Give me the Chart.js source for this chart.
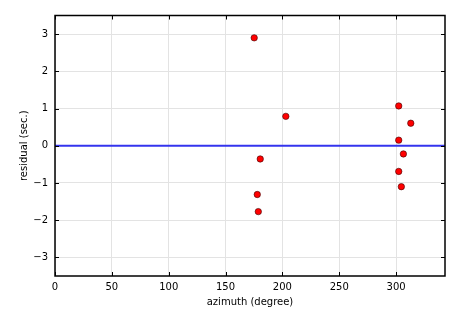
<!DOCTYPE html>
<html>
<head>
<meta charset="utf-8">
<script src="https://cdn.jsdelivr.net/npm/chart.js@4/dist/chart.umd.min.js"></script>
<style>
  body { margin: 0; background: #fff; }
  canvas { display: block; }
</style>
</head>
<body>
<canvas id="c" width="465" height="315"></canvas>
<script>
// data
const azimuth = [175.2, 203.0, 180.5, 177.9, 178.8, 302.3, 312.9, 302.3, 306.4, 302.3, 304.6];
const residual = [2.90, 0.79, -0.355, -1.31, -1.77, 1.07, 0.605, 0.15, -0.22, -0.69, -1.10];
const xTicks = [0, 50, 100, 150, 200, 250, 300];
const yTicks = [-3, -2, -1, 0, 1, 2, 3];
const xRange = [0, 343];
const yRange = [-3.5, 3.5];

const points = azimuth.map((a, i) => ({ x: a, y: residual[i] }));
const zeroLine = [{ x: xRange[0], y: 0 }, { x: xRange[1], y: 0 }];

const fmt = v => v < 0 ? '\u2212' + Math.abs(v) : String(v);

// matplotlib-ish frame: black box with inward ticks
const frame = {
  id: 'frame',
  afterDatasetsDraw(chart) {
    const { ctx, chartArea: a, scales } = chart;
    const len = 4;
    ctx.save();
    ctx.strokeStyle = '#000';
    ctx.lineWidth = 1;
    ctx.beginPath();
    xTicks.forEach(t => {
      const px = Math.round(scales.x.getPixelForValue(t)) + 0.5;
      ctx.moveTo(px, a.bottom); ctx.lineTo(px, a.bottom - len);
      ctx.moveTo(px, a.top); ctx.lineTo(px, a.top + len);
    });
    yTicks.forEach(t => {
      const py = Math.round(scales.y.getPixelForValue(t)) + 0.5;
      ctx.moveTo(a.left, py); ctx.lineTo(a.left + len, py);
      ctx.moveTo(a.right, py); ctx.lineTo(a.right - len, py);
    });
    ctx.stroke();
    ctx.lineWidth = 1.5;
    ctx.strokeRect(a.left, a.top, a.right - a.left, a.bottom - a.top);
    ctx.restore();
  }
};

new Chart(document.getElementById('c'), {
  type: 'scatter',
  data: {
    datasets: [
      {
        type: 'line',
        data: zeroLine,
        borderColor: '#3434ee',
        borderWidth: 2,
        pointRadius: 0,
        order: 2
      },
      {
        data: points,
        backgroundColor: '#ff0000',
        borderColor: '#3a0000',
        borderWidth: 0.6,
        pointRadius: 3.2,
        order: 1
      }
    ]
  },
  options: {
    responsive: false,
    animation: false,
    layout: { padding: { top: 15.5, right: 20, left: 0, bottom: 0 } },
    plugins: { legend: { display: false }, tooltip: { enabled: false } },
    scales: {
      x: {
        type: 'linear',
        min: xRange[0],
        max: xRange[1],
        afterBuildTicks: s => { s.ticks = xTicks.map(v => ({ value: v })); },
        afterFit: s => { s.height = 39; },
        grid: { color: '#e3e3e3', lineWidth: 1, drawTicks: false },
        border: { display: false },
        ticks: {
          padding: 5,
          color: '#000',
          font: { family: 'DejaVu Sans', size: 10 },
          callback: fmt,
          maxRotation: 0
        },
        title: {
          display: true,
          text: 'azimuth (degree)',
          color: '#000',
          font: { family: 'DejaVu Sans', size: 10 },
          padding: { top: 0, bottom: 7 }
        }
      },
      y: {
        type: 'linear',
        min: yRange[0],
        max: yRange[1],
        afterBuildTicks: s => { s.ticks = yTicks.map(v => ({ value: v })); },
        afterFit: s => { s.width = 55; },
        grid: { color: '#e3e3e3', lineWidth: 1, drawTicks: false },
        border: { display: false },
        ticks: {
          padding: 7,
          color: '#000',
          font: { family: 'DejaVu Sans', size: 10 },
          callback: fmt
        },
        title: {
          display: true,
          text: 'residual (sec.)',
          color: '#000',
          font: { family: 'DejaVu Sans', size: 10 },
          padding: { top: 18, bottom: 0 }
        }
      }
    }
  },
  plugins: [frame]
});
</script>
</body>
</html>
